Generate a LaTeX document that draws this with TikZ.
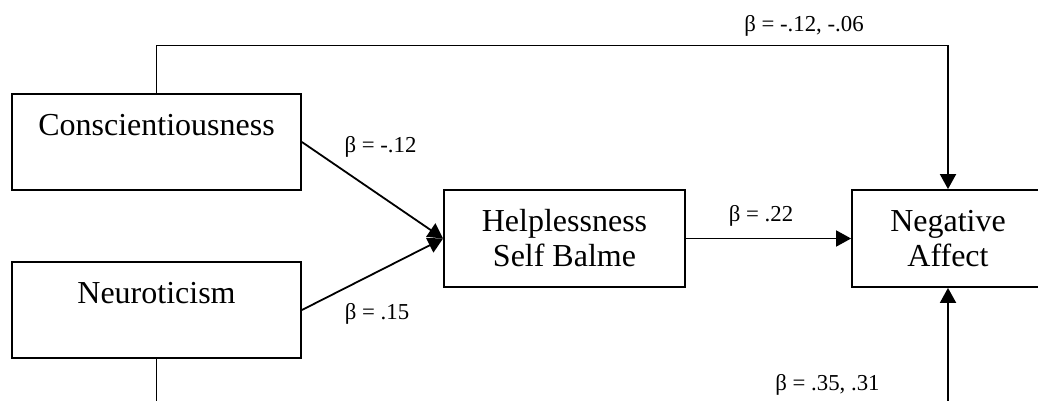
\documentclass[tikz,border=0pt]{standalone}
\usepackage{fontspec}
\setmainfont{Liberation Serif}
\usetikzlibrary{arrows.meta,positioning}

\begin{document}
\begin{tikzpicture}[x=0.5pt,y=-0.5pt,
  box/.style={draw,line width=0.9pt,inner sep=0pt,align=center,font=\fontsize{16}{17.5}\selectfont},
  beta/.style={font=\fontsize{11.4}{13}\selectfont,anchor=base,inner sep=0pt},
  conn/.style={line width=0.9pt},
  arr/.style={line width=0.9pt,-{Triangle[length=7.5pt,width=8pt]}}]
\useasboundingbox (0,0) rectangle (1038,401);
% boxes
\node[box,minimum width=144.5pt,minimum height=48pt] (cons) at (156.5,142) {Conscientiousness\\\mbox{}};
\node[box,minimum width=144.5pt,minimum height=48pt] (neuro) at (156.5,310) {Neuroticism\\\mbox{}};
\node[box,minimum width=120.5pt,minimum height=48.5pt] (help) at (564.5,238.5) {Helplessness\\Self Balme};
\node[box,minimum width=96pt,minimum height=48.5pt] (negaff) at (948,238.5) {Negative\\Affect};
% free ends below the picture
\coordinate (nout) at (156.5,406);
\coordinate (nin) at (948,406);
% paths
\draw[arr] (cons.north) -- ++(0,-47.5) -| (negaff.north);
\draw[arr] (cons.east) -- (help.west);
\draw[arr] (neuro.east) -- (help.west);
\draw[arr] (help.east) -- (negaff.west);
\draw[arr] (nin) -- (negaff.south);
\draw[conn] (neuro.south) -- (nout);
% coefficients
\node[beta] (bdir1) at (804,31.5) {β = -.12, -.06};
\node[beta] (bcons) at (380.5,152) {β = -.12};
\node[beta] (bneuro) at (377,319) {β = .15};
\node[beta] (bhelp) at (761,221) {β = .22};
\node[beta] (bdir2) at (827.5,390) {β = .35, .31};
\end{tikzpicture}
\end{document}
